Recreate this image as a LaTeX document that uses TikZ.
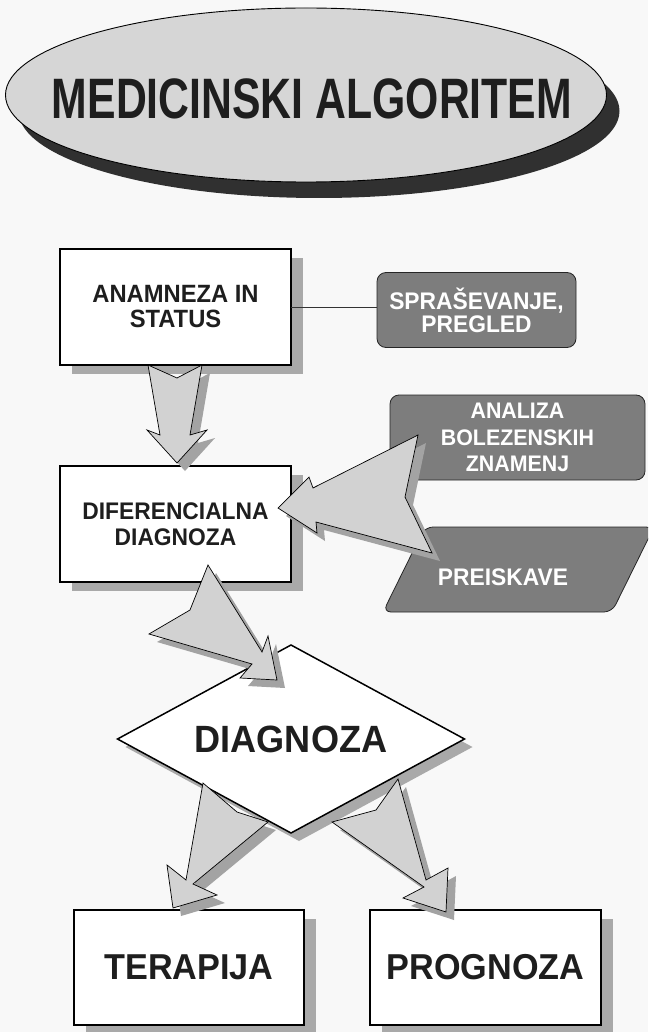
\documentclass[tikz,border=0pt]{standalone}
\usepackage{fontspec}
\usepackage{tikz}
\usetikzlibrary{positioning,shapes.geometric,shadows}

\newfontfamily\boxfont[FakeStretch=0.95]{Liberation Sans}
\newfontfamily\titlefont[FakeStretch=0.75]{Liberation Sans}

\definecolor{pagegray}{HTML}{F8F8F8}
\definecolor{titlegray}{HTML}{D6D6D6}
\definecolor{titleshadow}{HTML}{303030}
\definecolor{textgray}{HTML}{1E1E1E}
\definecolor{boxshadow}{HTML}{A9A9A9}
\definecolor{darkfill}{HTML}{7D7D7D}
\definecolor{arrowfill}{HTML}{D2D2D2}
\definecolor{arrowshadow}{HTML}{A3A3A3}

\tikzset{
	titleell/.style={ellipse, draw=black, line width=0.9pt, fill=titlegray, minimum width=601pt, minimum height=174pt, inner sep=0pt,
		drop shadow={shadow xshift=13pt, shadow yshift=-16pt, fill=titleshadow, opacity=1}},
	titletext/.style={text=textgray, inner sep=0pt, font=\titlefont\bfseries\fontsize{57}{57}\selectfont},
	box/.style={rectangle, draw=black, line width=1.8pt, fill=white, inner sep=0pt, outer sep=0pt, align=center, text=textgray,
		drop shadow={shadow xshift=12pt, shadow yshift=-9pt, fill=boxshadow, opacity=1}},
	diam/.style={diamond, aspect=1.85, draw=black, line width=1.5pt, fill=white, inner sep=0pt, outer sep=0pt, text=textgray,
		minimum width=347pt, minimum height=188pt,
		drop shadow={shadow xshift=8pt, shadow yshift=-8pt, fill=boxshadow, opacity=1},
		font=\boxfont\bfseries\fontsize{38}{38}\selectfont},
	darkbox/.style={draw=black!85, line width=0.8pt, fill=darkfill, rounded corners=9pt, inner sep=0pt, outer sep=0pt, align=center, text=white},
	darktext/.style={text=white, inner sep=0pt, font=\boxfont\bfseries\fontsize{24}{24}\selectfont},
	link/.style={draw=black!80, line width=1pt},
	arrbody/.style={fill=arrowfill, draw=black, line width=0.7pt, line join=miter},
	arrshadow/.style={fill=arrowshadow, shift={(8,8)}}
}

\newcommand{\blockarr}[1]{
	\fill[arrshadow] #1;
	\draw[arrbody] #1;
}

\begin{document}
\begin{tikzpicture}[x=1pt, y=-1pt]
	\fill[pagegray] (0,0) rectangle (648,1032);
	\useasboundingbox (0,0) rectangle (648,1032);
	\clip (0,0) rectangle (648,1032);

	\node[titleell] (title) at (306,95) {};
	\node[titletext] (titletxt) at (312,99) {MEDICINSKI ALGORITEM};

	\node[box, minimum width=231pt, minimum height=116pt, font=\boxfont\bfseries\fontsize{25}{25}\selectfont] (anam) at (175.5,307) {ANAMNEZA IN\\STATUS};
	\node[box, minimum width=231pt, minimum height=116pt, font=\boxfont\bfseries\fontsize{24}{26}\selectfont, below=101pt of anam] (difd) {DIFERENCIALNA\\DIAGNOZA};
	\node[diam] (diag) at (291,739) {DIAGNOZA};
	\node[box, minimum width=230pt, minimum height=115pt, font=\boxfont\bfseries\fontsize{36}{36}\selectfont] (ter) at (189,967.5) {TERAPIJA};
	\node[box, minimum width=231pt, minimum height=115pt, font=\boxfont\bfseries\fontsize{36}{36}\selectfont, right=66pt of ter] (prog) {PROGNOZA};

	\node[darkbox, minimum width=199pt, minimum height=75pt, font=\boxfont\bfseries\fontsize{24}{23}\selectfont] (sprs) at (476.5,310) {SPRAŠEVANJE,\\PREGLED};
	\node[darkbox, minimum width=255pt, minimum height=85pt, font=\boxfont\bfseries\fontsize{22.5}{26.5}\selectfont] (anlz) at (517.5,437.5) {ANALIZA\\BOLEZENSKIH\\ZNAMENJ};
	\draw[darkbox, rounded corners=8pt] (425,527) -- (654,527) -- (612,612) -- (383,612) -- cycle;
	\node[darktext] (preis) at (503,577) {PREISKAVE};

	\draw[link] (anam) -- (anam -| sprs.west);

	\blockarr{(148,365) -- (177,378) -- (202,365) -- (190,435) -- (207,430) -- (177,463) -- (147,430) -- (160,435) -- cycle}
	\blockarr{(278,508) -- (309,477) -- (313,488) -- (418,435) -- (405,497) -- (432,553) -- (316,522) -- (317,533) -- cycle}
	\blockarr{(208,565) -- (262,652) -- (268,636) -- (277,680) -- (240,678) -- (252,664) -- (149,634) -- (190,610) -- cycle}
	\blockarr{(203,783) -- (237,812) -- (268,822) -- (193,884) -- (217,895) -- (173,908) -- (167,865) -- (186,880) -- cycle}
	\blockarr{(332,822) -- (376,810) -- (398,779) -- (426,880) -- (448,868) -- (446,912) -- (403,898) -- (424,887) -- cycle}
\end{tikzpicture}
\end{document}
